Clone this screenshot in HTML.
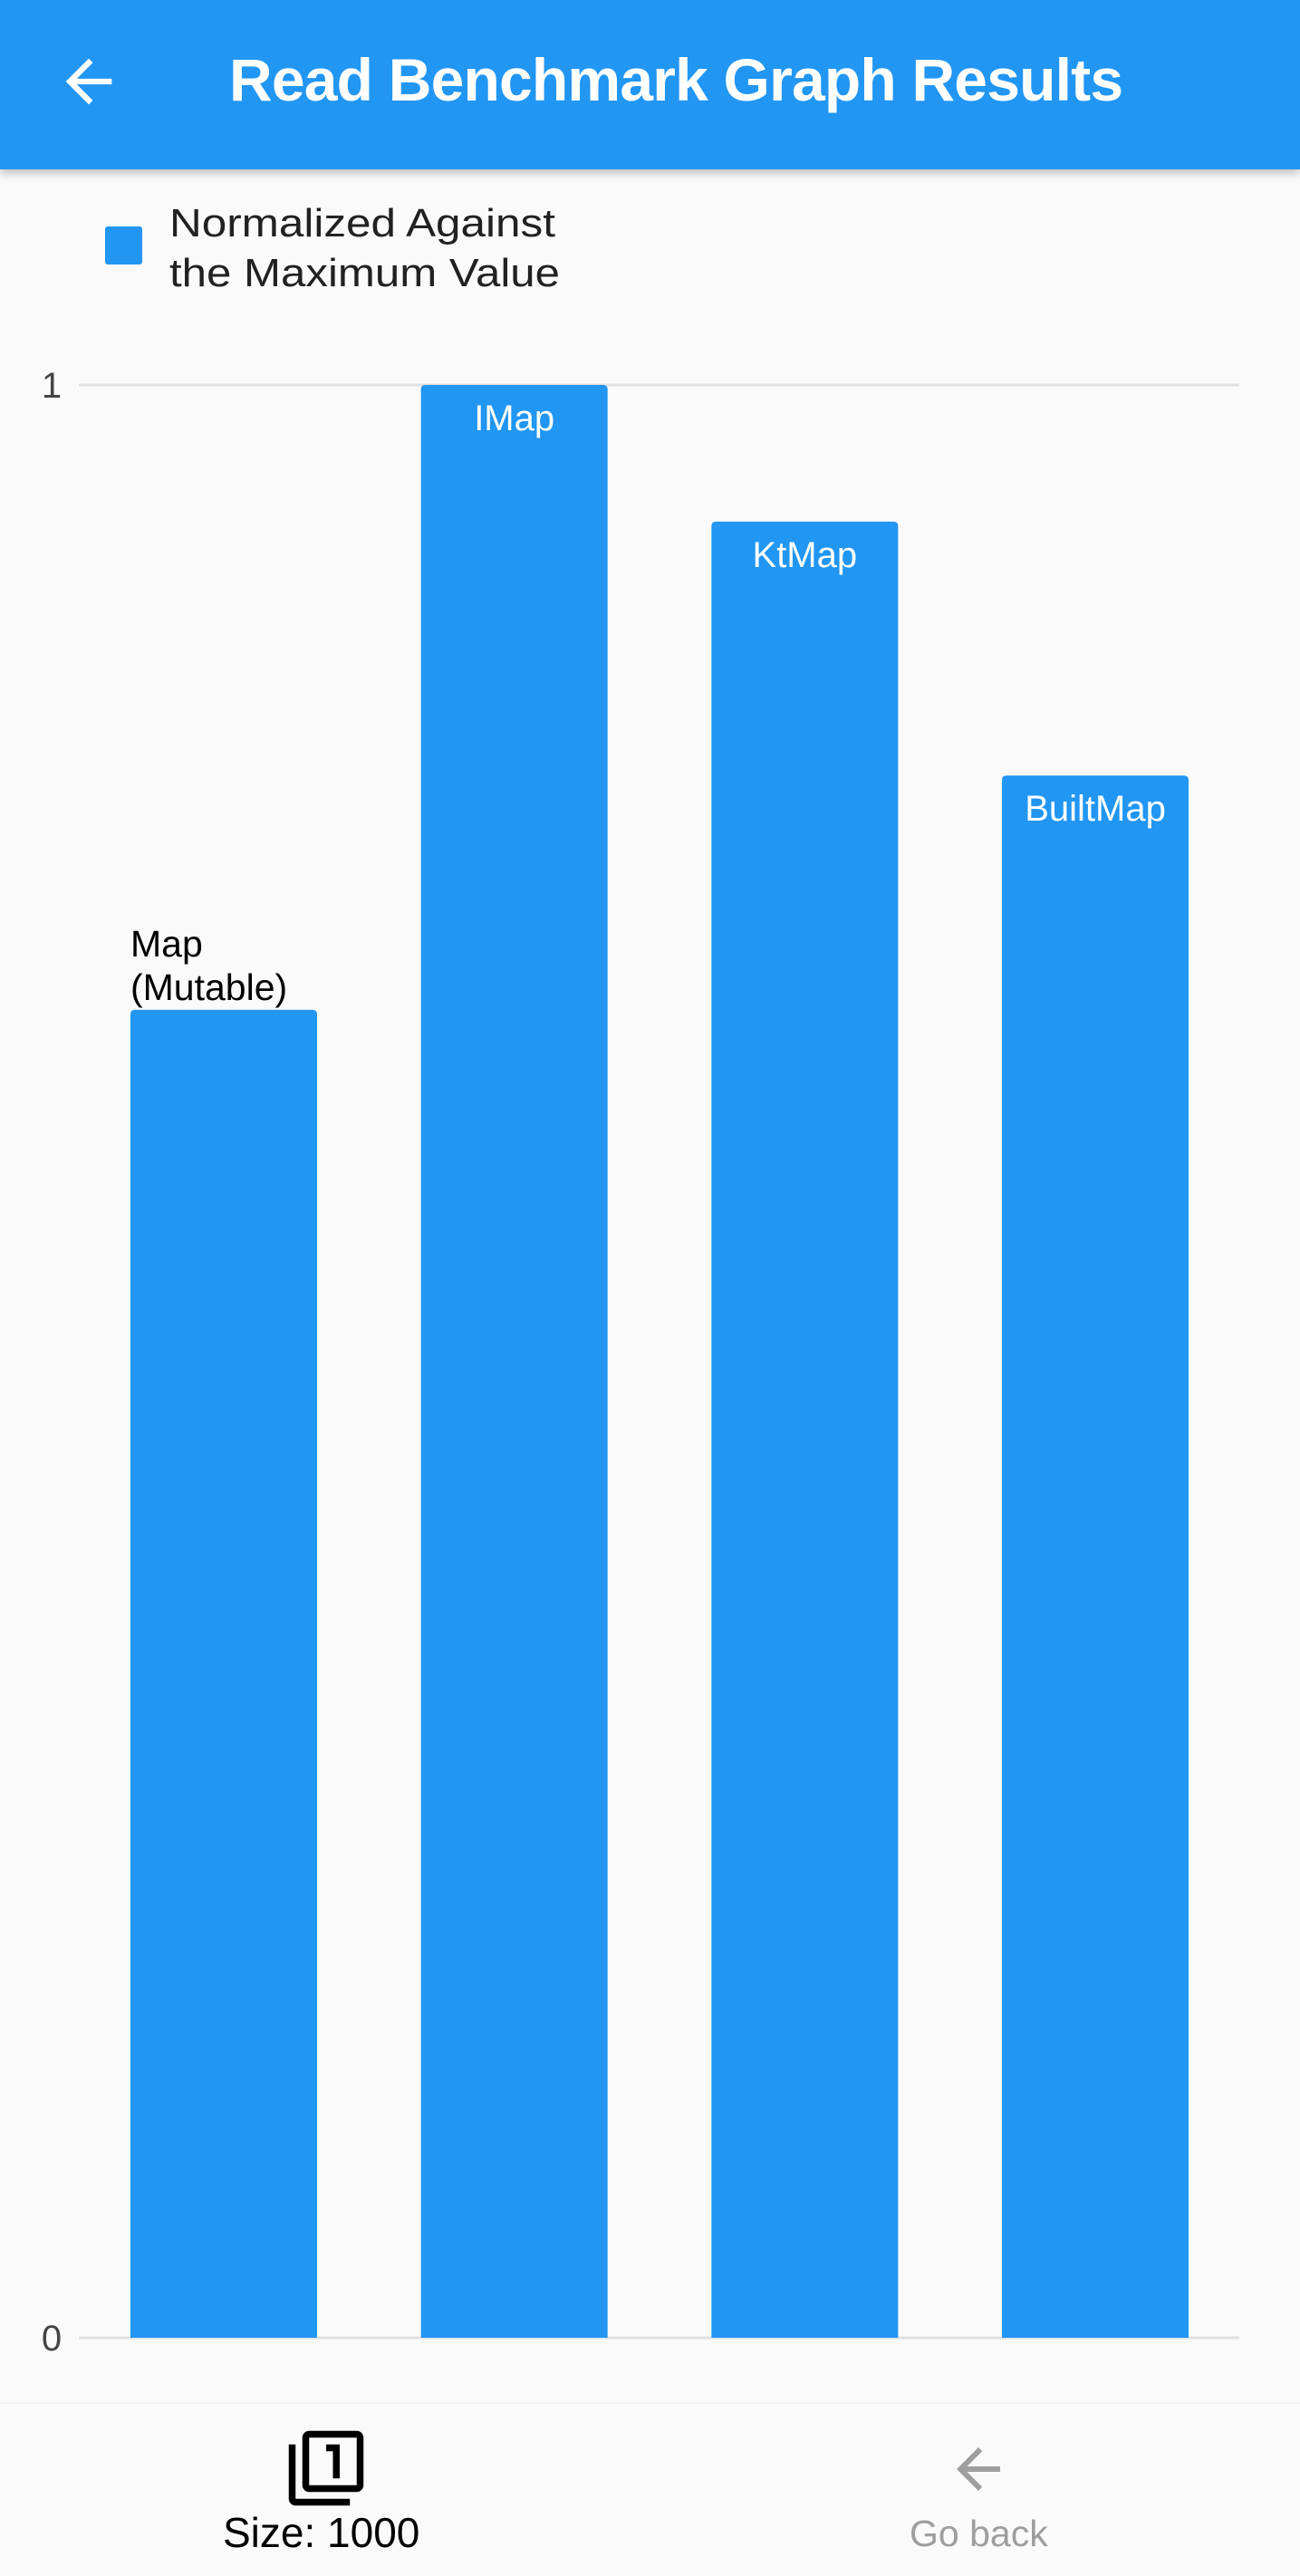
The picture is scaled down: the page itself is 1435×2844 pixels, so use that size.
<!DOCTYPE html>
<html><head><meta charset="utf-8"><style>
html,body{margin:0;padding:0;}
body{width:1435px;height:2842px;background:#fafafa;font-family:"Liberation Sans",sans-serif;position:relative;overflow:hidden;}
.appbar{position:absolute;left:0;top:0;width:1435px;height:187px;background:#2196f3;box-shadow:0 4px 10px rgba(0,0,0,0.25);}
.title{position:absolute;left:253px;top:50px;font-size:66px;color:#fff;font-weight:bold;letter-spacing:-0.8px;white-space:nowrap;}
.bottom{position:absolute;left:0;top:2652px;width:1435px;height:190px;background:#fafafa;border-top:2px solid #f0f0f0;}
</style></head><body>
<div class="appbar">
  <svg style="position:absolute;left:60px;top:52px" width="76" height="76" viewBox="0 0 24 24"><path d="M20 11H7.83l5.59-5.59L12 4l-8 8 8 8 1.41-1.41L7.83 13H20v-2z" fill="#fff"/></svg>
  <div class="title">Read Benchmark Graph Results</div>
</div>
<svg id="chart" style="position:absolute;left:0;top:187px" width="1435" height="2465"></svg>
<div class="bottom">
  <div style="position:absolute;left:200px;top:0;width:320px;height:190px;">
    <svg style="position:absolute;left:115px;top:26px" width="90" height="90" viewBox="0 0 24 24"><path d="M3 5H1v16c0 1.1.9 2 2 2h16v-2H3V5zm11 10h2V5h-4v2h2v8zm7-14H7c-1.1 0-2 .9-2 2v14c0 1.1.9 2 2 2h14c1.1 0 2-.9 2-2V3c0-1.1-.9-2-2-2zm0 16H7V3h14v14z" fill="#000"/></svg>
    <div style="position:absolute;left:46px;top:115px;font-size:46px;color:#000;white-space:nowrap;">Size: 1000</div>
  </div>
  <div style="position:absolute;left:960px;top:0;width:240px;height:190px;">
    <svg style="position:absolute;left:84px;top:36px" width="72" height="72" viewBox="0 0 24 24"><path d="M20 11H7.83l5.59-5.59L12 4l-8 8 8 8 1.41-1.41L7.83 13H20v-2z" fill="#9e9e9e"/></svg>
    <div style="position:absolute;left:44px;top:120px;font-size:41px;color:#9e9e9e;white-space:nowrap;">Go back</div>
  </div>
</div>
<script>
const categories=["Map\n(Mutable)","IMap","KtMap","BuiltMap"];
const values=[0.68,1.0,0.93,0.80];
const tickValues=[0,1];
const tickLabels=["0","1"];
const svg=document.getElementById('chart');
const NS='http://www.w3.org/2000/svg';
const OY=187, y0=2581-OY, y1=425-OY, xL=87, xR=1368;
const bandStart=144, bandStep=(1106-144)/3, barW=206;
function y(v){return y0+(y1-y0)*v;}
function x(i){return bandStart+i*bandStep;}
function mk(t,a){const e=document.createElementNS(NS,t);for(const k in a)e.setAttribute(k,a[k]);svg.appendChild(e);return e;}
let lg=mk('rect',{x:116,y:250-OY,width:41,height:42,rx:3,fill:'#2196f3'});


["Normalized Against","the Maximum Value"].forEach((s,i)=>{const t=mk('text',{x:187,y:261-OY+i*55,'font-size':44,fill:'#212121',textLength:(i?431:426),lengthAdjust:'spacingAndGlyphs'});t.textContent=s;

});
tickValues.forEach((v,i)=>{
  const g=mk('line',{x1:xL,x2:xR,y1:y(v),y2:y(v),stroke:'#e0e0e0','stroke-width':3});
  
  
  const t=mk('text',{x:57,y:y(v)+14,'font-size':40,fill:'#444','text-anchor':'middle'});t.textContent=tickLabels[i];
  
  
});
values.forEach((v,i)=>{
  const top=y(v);
  const p=mk('path',{d:`M${x(i)},${y0}V${top+5}Q${x(i)},${top} ${x(i)+5},${top}H${x(i)+barW-5}Q${x(i)+barW},${top} ${x(i)+barW},${top+5}V${y0}Z`,fill:'#2196f3'});
  
  
  const lines=categories[i].split('\n');
  if(v<0.75){
    lines.forEach((s,j)=>{const t=mk('text',{x:x(i),y:top-59+j*48,'font-size':41,fill:'#000'});t.textContent=s;
    
    });
  }else{
    lines.forEach((s,j)=>{const t=mk('text',{x:x(i)+barW/2,y:top+50+j*48,'font-size':40,fill:'#fff','text-anchor':'middle'});t.textContent=s;
    
    });
  }
});
</script>
</body></html>
